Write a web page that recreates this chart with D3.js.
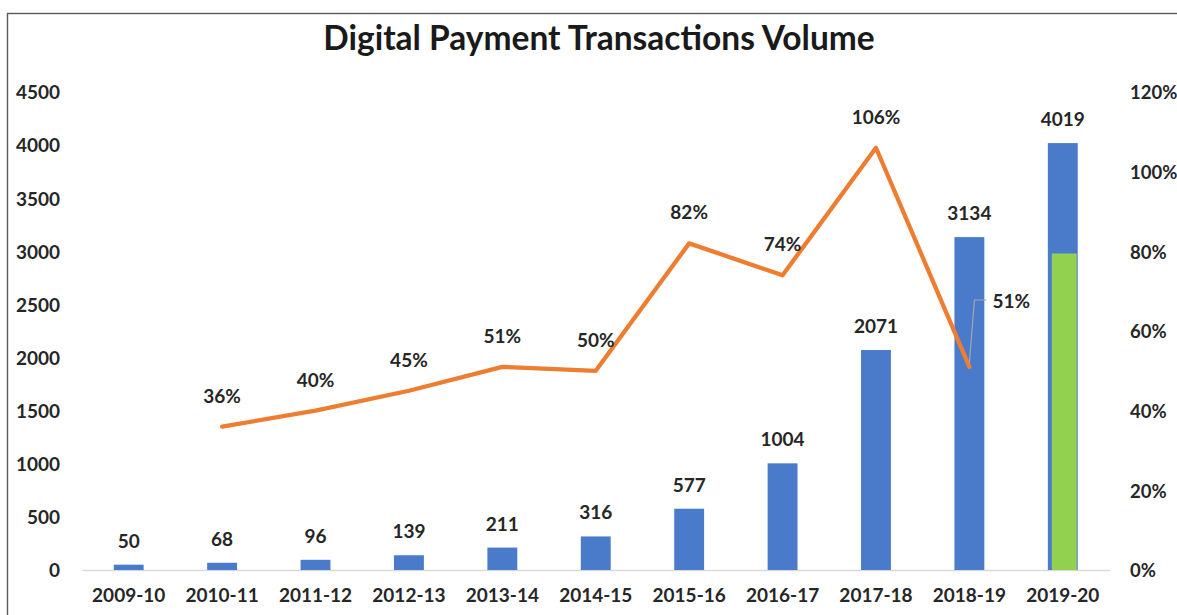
<!DOCTYPE html>
<html>
<head>
<meta charset="utf-8">
<script src="https://cdn.jsdelivr.net/npm/d3@7"></script>
<style>
  html, body { margin: 0; padding: 0; background: #fff; }
  svg { display: block; }
  text { font-family: Lato, "Open Sans", sans-serif; font-weight: 700; fill: #262626; }
</style>
</head>
<body>
<svg id="chart" width="1177" height="615"></svg>
<script>
// Fiscal years on the category axis
const years = ["2009-10", "2010-11", "2011-12", "2012-13", "2013-14", "2014-15",
               "2015-16", "2016-17", "2017-18", "2018-19", "2019-20"];
// Transaction volume (crore) per year
const volume = [50, 68, 96, 139, 211, 316, 577, 1004, 2071, 3134, 4019];
// Highlighted portion of the latest year's volume
const highlight = [null, null, null, null, null, null, null, null, null, null, 2980];
// Year-on-year growth (%)
const growth = [null, 36, 40, 45, 51, 50, 82, 74, 106, 51, null];
// Axis tick values
const volumeTicks = [0, 500, 1000, 1500, 2000, 2500, 3000, 3500, 4000, 4500];
const growthTicks = [0, 20, 40, 60, 80, 100, 120];

const svg = d3.select("#chart");
const W = 1177, H = 615;
const plot = { left: 82, right: 1109.5, top: 92, bottom: 570 };

// chart frame (clipped on the right and bottom)
svg.append("rect")
  .attr("x", 7.5).attr("y", 13.5)
  .attr("width", W + 20).attr("height", H + 20)
  .attr("fill", "none").attr("stroke", "#595959").attr("stroke-width", 1.4);

svg.append("text")
  .attr("x", 599).attr("y", 50)
  .attr("text-anchor", "middle")
  .style("font-size", "33.5px")
  .style("fill", "#1a1a1a")
  .text("Digital Payment Transactions Volume");

const x = d3.scaleBand()
  .domain(years)
  .range([plot.left, plot.right])
  .paddingInner(0.68)
  .paddingOuter(0.34);

const yL = d3.scaleLinear().domain([0, 4500]).range([plot.bottom, plot.top]);
const yR = d3.scaleLinear().domain([0, 120]).range([plot.bottom, plot.top]);

// left axis
const axL = svg.append("g")
  .attr("transform", `translate(${plot.left - 20},0)`)
  .call(d3.axisLeft(yL).tickValues(volumeTicks).tickSize(0).tickPadding(2).tickFormat(d3.format("d")));
axL.select(".domain").remove();
axL.selectAll("text").style("font-size", "19px").style("font-family", null).attr("dy", "0.36em");

// right axis
const axR = svg.append("g")
  .attr("transform", `translate(1130,0)`)
  .call(d3.axisRight(yR).tickValues(growthTicks).tickSize(0).tickPadding(0).tickFormat(d => d + "%"));
axR.select(".domain").remove();
axR.selectAll("text").style("font-size", "18.5px").style("font-family", null).attr("dy", "0.36em");

// category axis
const axB = svg.append("g")
  .attr("transform", `translate(0,${plot.bottom})`)
  .call(d3.axisBottom(x).tickSize(0).tickPadding(25));
axB.select(".domain").attr("stroke", "#d9d9d9").attr("stroke-width", 1.5);
axB.selectAll("text").style("font-size", "19px").style("font-family", null).attr("dy", "0.36em");

// volume bars
const bw = x.bandwidth();
svg.append("g").selectAll("rect")
  .data(years.map((y, i) => ({ y, v: volume[i] })))
  .join("rect")
  .attr("x", d => x(d.y))
  .attr("y", d => yL(d.v))
  .attr("width", bw)
  .attr("height", d => yL(0) - yL(d.v))
  .attr("fill", "#4a7bcb");

// highlighted segment of the latest bar
svg.append("g").selectAll("rect")
  .data(years.map((y, i) => ({ y, v: highlight[i] })).filter(d => d.v != null))
  .join("rect")
  .attr("x", d => x(d.y) + 4)
  .attr("y", d => yL(d.v))
  .attr("width", bw - 5)
  .attr("height", d => yL(0) - yL(d.v))
  .attr("fill", "#92d050");

// bar value labels
svg.append("g").selectAll("text")
  .data(years.map((y, i) => ({ y, v: volume[i] })))
  .join("text")
  .attr("x", d => x(d.y) + bw / 2)
  .attr("y", d => yL(d.v) - 17)
  .attr("text-anchor", "middle")
  .style("font-size", "19px")
  .text(d => d.v);

// growth line
const pts = years.map((y, i) => ({ y, g: growth[i] })).filter(d => d.g != null);
const line = d3.line()
  .x(d => x(d.y) + bw / 2)
  .y(d => yR(d.g));
svg.append("path")
  .datum(pts)
  .attr("d", line)
  .attr("fill", "none")
  .attr("stroke", "#ed7d31")
  .attr("stroke-width", 4.3)
  .attr("stroke-linejoin", "round")
  .attr("stroke-linecap", "round");

// growth labels; the last one is moved aside with a leader line
const last = pts[pts.length - 1];
svg.append("g").selectAll("text")
  .data(pts.slice(0, -1))
  .join("text")
  .attr("x", d => x(d.y) + bw / 2)
  .attr("y", d => yR(d.g) - 24)
  .attr("text-anchor", "middle")
  .style("font-size", "19px")
  .text(d => d.g + "%");

const lx = x(last.y) + bw / 2, ly = yR(last.g);
svg.append("path")
  .attr("d", `M${lx},${ly - 4} L${lx + 5},300 L${lx + 17},300`)
  .attr("fill", "none")
  .attr("stroke", "#a6a6a6")
  .attr("stroke-width", 1.2);
svg.append("text")
  .attr("x", lx + 23).attr("y", 308)
  .style("font-size", "19px")
  .text(last.g + "%");
</script>
</body>
</html>
